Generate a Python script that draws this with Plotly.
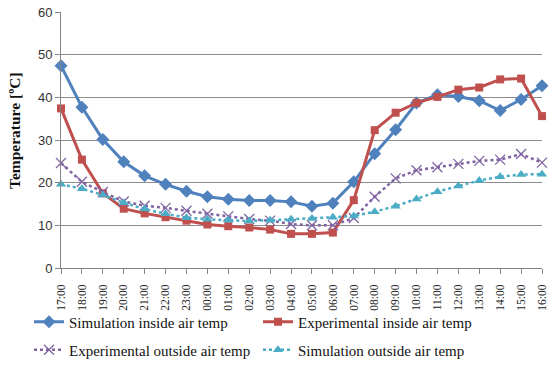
import plotly.graph_objects as go

hours = ["17:00", "18:00", "19:00", "20:00", "21:00", "22:00", "23:00", "00:00",
         "01:00", "02:00", "03:00", "04:00", "05:00", "06:00", "07:00", "08:00",
         "09:00", "10:00", "11:00", "12:00", "13:00", "14:00", "15:00", "16:00"]

sim_inside = [47.4, 37.7, 30.1, 24.9, 21.6, 19.6, 18.0, 16.7, 16.1, 15.8, 15.8, 15.5,
              14.5, 15.2, 20.2, 26.8, 32.4, 38.7, 40.6, 40.2, 39.2, 36.9, 39.5, 42.7]
exp_inside = [37.4, 25.4, 17.5, 13.9, 12.8, 11.9, 11.1, 10.2, 9.8, 9.5, 9.0, 8.0,
              8.0, 8.3, 15.9, 32.3, 36.4, 38.7, 40.1, 41.8, 42.3, 44.2, 44.4, 35.6]
exp_outside = [24.6, 20.2, 17.8, 15.6, 14.6, 14.1, 13.4, 12.7, 12.1, 11.5, 11.1, 10.3,
               10.0, 10.0, 11.7, 16.7, 21.0, 22.9, 23.6, 24.4, 25.1, 25.4, 26.7, 24.7]
sim_outside = [19.6, 18.6, 17.1, 15.3, 13.8, 12.7, 11.8, 11.4, 11.2, 11.0, 11.2, 11.4,
               11.6, 11.9, 12.2, 13.2, 14.5, 16.2, 17.9, 19.2, 20.5, 21.4, 21.9, 22.0]

y_ticks = [0, 10, 20, 30, 40, 50, 60]
y_title = "Temperature [ºC]"

fig = go.Figure()
fig.add_trace(go.Scatter(x=hours, y=sim_inside, name="Simulation inside air temp",
                         mode="lines+markers", legend="legend", cliponaxis=False,
                         line=dict(color="#4F81BD", width=3),
                         marker=dict(symbol="diamond", size=10, color="#4F81BD")))
fig.add_trace(go.Scatter(x=hours, y=exp_inside, name="Experimental inside air temp",
                         mode="lines+markers", legend="legend", cliponaxis=False,
                         line=dict(color="#C0504D", width=3),
                         marker=dict(symbol="square", size=8, color="#C0504D")))
fig.add_trace(go.Scatter(x=hours, y=exp_outside, name="Experimental outside air temp",
                         mode="lines+markers", legend="legend2", cliponaxis=False,
                         line=dict(color="#8064A2", width=2.5, dash="dot"),
                         marker=dict(symbol="x-thin-open", size=10,
                                     line=dict(color="#9B88BB", width=1.3))))
fig.add_trace(go.Scatter(x=hours, y=sim_outside, name="Simulation outside air temp",
                         mode="lines+markers", legend="legend2", cliponaxis=False,
                         line=dict(color="#4BACC6", width=2.5, dash="dot"),
                         marker=dict(symbol="triangle-up", size=9, color="#4BACC6")))

legend_common = dict(orientation="h", xanchor="left", yanchor="middle",
                     xref="container", yref="container",
                     font=dict(family="Liberation Serif", size=15, color="#111111"),
                     bgcolor="rgba(0,0,0,0)", entrywidth=184, itemclick=False,
                     traceorder="normal")

fig.update_layout(
    width=550, height=388,
    margin=dict(l=61, r=8, t=12, b=120, autoexpand=False),
    paper_bgcolor="white", plot_bgcolor="white",
    showlegend=True,
    legend=dict(x=29 / 550, y=1 - 322 / 388, **legend_common),
    legend2=dict(x=29 / 550, y=1 - 350 / 388, **legend_common),
    xaxis=dict(type="category", categoryorder="array", categoryarray=hours,
               range=[0, 23], tickangle=-90, showgrid=False, automargin=False,
               showline=True, linecolor="#868686", linewidth=1,
               ticks="outside", ticklen=5, tickcolor="#868686", ticklabelstandoff=6,
               tickfont=dict(family="Liberation Serif", size=11.5, color="#222222"),
               zeroline=False),
    yaxis=dict(range=[0, 60], tickvals=y_ticks, showgrid=True, gridcolor="#8C8C8C",
               gridwidth=1, showline=True, linecolor="#868686", linewidth=1,
               ticks="outside", ticklen=5, tickcolor="#868686", automargin=False,
               tickfont=dict(family="Liberation Sans", size=13, color="#333333"),
               zeroline=False),
    annotations=[dict(text="<b>" + y_title + "</b>", textangle=-90,
                      xref="paper", yref="paper", x=(14 - 61) / 481, y=(268 - 131) / 256,
                      xanchor="center", yanchor="middle", showarrow=False,
                      font=dict(family="Liberation Serif", size=15.5, color="#111111"))],
)

fig.write_html("out.html", config={"displayModeBar": False},
               post_script="document.body.style.margin='0px';")
